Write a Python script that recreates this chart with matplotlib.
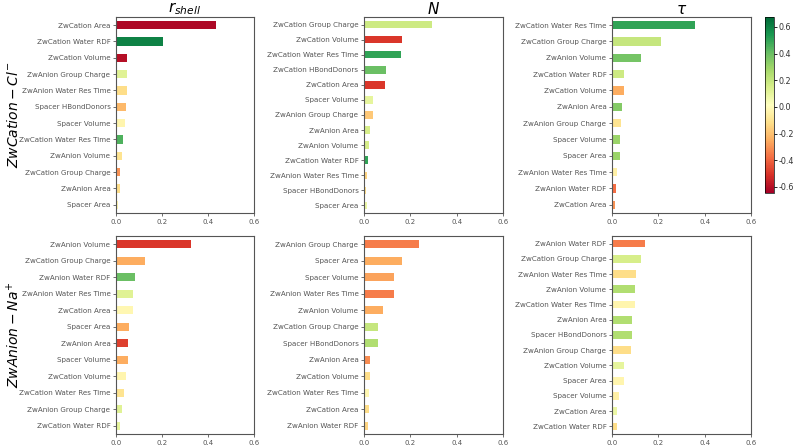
import matplotlib
matplotlib.use("Agg")
import matplotlib.pyplot as plt
import numpy as np
from matplotlib import cm
from matplotlib.colors import Normalize

# ---- data (top to bottom as shown) ----
r_cl_labels = ["ZwCation Area", "ZwCation Water RDF", "ZwCation Volume", "ZwAnion Group Charge",
               "ZwAnion Water Res Time", "Spacer HBondDonors", "Spacer Volume",
               "ZwCation Water Res Time", "ZwAnion Volume", "ZwCation Group Charge",
               "ZwAnion Area", "Spacer Area"]
r_cl_imp = [0.436, 0.206, 0.049, 0.048, 0.048, 0.045, 0.039, 0.032, 0.026, 0.019, 0.016, 0.010]
r_cl_corr = [-0.62, 0.60, -0.60, 0.12, -0.12, -0.22, -0.03, 0.45, -0.10, -0.30, -0.12, -0.03]

n_cl_labels = ["ZwCation Group Charge", "ZwCation Volume", "ZwCation Water Res Time",
               "ZwCation HBondDonors", "ZwCation Area", "Spacer Volume", "ZwAnion Group Charge",
               "ZwAnion Area", "ZwAnion Volume", "ZwCation Water RDF",
               "ZwAnion Water Res Time", "Spacer HBondDonors", "Spacer Area"]
n_cl_imp = [0.294, 0.163, 0.159, 0.094, 0.089, 0.037, 0.037, 0.026, 0.022, 0.016, 0.012, 0.010, 0.011]
n_cl_corr = [0.18, -0.50, 0.50, 0.40, -0.50, 0.10, -0.18, 0.15, 0.15, 0.50, -0.15, -0.12, 0.08]

t_cl_labels = ["ZwCation Water Res Time", "ZwCation Group Charge", "ZwAnion Volume",
               "ZwCation Water RDF", "ZwCation Volume", "ZwAnion Area", "ZwAnion Group Charge",
               "Spacer Volume", "Spacer Area", "ZwAnion Water Res Time", "ZwAnion Water RDF",
               "ZwCation Area"]
t_cl_imp = [0.360, 0.210, 0.125, 0.050, 0.050, 0.043, 0.039, 0.035, 0.035, 0.023, 0.017, 0.014]
t_cl_corr = [0.50, 0.20, 0.38, 0.18, -0.25, 0.35, -0.10, 0.30, 0.30, -0.05, -0.38, -0.30]

r_na_labels = ["ZwAnion Volume", "ZwCation Group Charge", "ZwAnion Water RDF",
               "ZwAnion Water Res Time", "ZwCation Area", "Spacer Area", "ZwAnion Area",
               "Spacer Volume", "ZwCation Volume", "ZwCation Water Res Time",
               "ZwAnion Group Charge", "ZwCation Water RDF"]
r_na_imp = [0.326, 0.128, 0.081, 0.072, 0.072, 0.058, 0.054, 0.054, 0.045, 0.033, 0.026, 0.017]
r_na_corr = [-0.50, -0.25, 0.40, 0.12, -0.02, -0.25, -0.48, -0.25, -0.03, -0.10, 0.12, 0.10]

n_na_labels = ["ZwAnion Group Charge", "Spacer Area", "Spacer Volume", "ZwAnion Water Res Time",
               "ZwAnion Volume", "ZwCation Group Charge", "Spacer HBondDonors", "ZwAnion Area",
               "ZwCation Volume", "ZwCation Water Res Time", "ZwCation Area", "ZwAnion Water RDF"]
n_na_imp = [0.238, 0.163, 0.128, 0.128, 0.084, 0.062, 0.061, 0.026, 0.026, 0.022, 0.022, 0.016]
n_na_corr = [-0.35, -0.25, -0.27, -0.35, -0.25, 0.20, 0.25, -0.32, -0.12, -0.02, -0.12, -0.15]

t_na_labels = ["ZwAnion Water RDF", "ZwCation Group Charge", "ZwAnion Water Res Time",
               "ZwAnion Volume", "ZwCation Water Res Time", "ZwAnion Area", "Spacer HBondDonors",
               "ZwAnion Group Charge", "ZwCation Volume", "Spacer Area", "Spacer Volume",
               "ZwCation Area", "ZwCation Water RDF"]
t_na_imp = [0.142, 0.125, 0.104, 0.100, 0.099, 0.088, 0.088, 0.083, 0.053, 0.050, 0.029, 0.023, 0.020]
t_na_corr = [-0.35, 0.15, -0.12, 0.25, -0.03, 0.25, 0.25, -0.12, 0.10, -0.03, -0.05, 0.08, -0.12]

col_titles = [r"$r_{shell}$", r"$N$", r"$\tau$"]
row_titles = [r"$ZwCation-Cl^{-}$", r"$ZwAnion-Na^{+}$"]
x_ticks = [0.0, 0.2, 0.4, 0.6]
cbar_ticks = [-0.6, -0.4, -0.2, 0.0, 0.2, 0.4, 0.6]

panels = [
    [(r_cl_labels, r_cl_imp, r_cl_corr), (n_cl_labels, n_cl_imp, n_cl_corr), (t_cl_labels, t_cl_imp, t_cl_corr)],
    [(r_na_labels, r_na_imp, r_na_corr), (n_na_labels, n_na_imp, n_na_corr), (t_na_labels, t_na_imp, t_na_corr)],
]

cmap = plt.get_cmap("RdYlGn")
norm = Normalize(vmin=-0.645, vmax=0.675)

fig = plt.figure(figsize=(8.0, 4.48), dpi=100)

lefts = [116 / 800, 364 / 800, 612 / 800]
widths = [138 / 800, 139 / 800, 139 / 800]
rows = [(1 - 213 / 448, (213 - 17) / 448), (1 - 434 / 448, (434 - 236) / 448)]

for r in range(2):
    for c in range(3):
        labels, imp, corr = panels[r][c]
        ax = fig.add_axes([lefts[c], rows[r][0], widths[c], rows[r][1]])
        n = len(labels)
        y = np.arange(n)[::-1]
        colors = [cmap(norm(v)) for v in corr]
        ax.barh(y, imp, height=0.5, color=colors)
        ax.set_yticks(y)
        ax.set_yticklabels(labels, fontsize=5.15, color="#333333")
        ax.set_ylim(-0.5, n - 0.5)
        ax.set_xlim(0, 0.6)
        ax.set_xticks(x_ticks)
        ax.set_xticklabels([f"{t:.1f}" for t in x_ticks], fontsize=5.0, color="#333333")
        ax.tick_params(length=2.5, width=0.6, colors="#555555", pad=1.5)
        for s in ax.spines.values():
            s.set_color("#555555")
            s.set_linewidth(0.8)
        if r == 0:
            ax.set_title(col_titles[c], fontsize=11, pad=1.5)
        if c == 0:
            fig.text(0.0175, rows[r][0] + rows[r][1] / 2, row_titles[r], rotation=90,
                     fontsize=10, ha="center", va="center")

cax = fig.add_axes([765 / 800, 1 - 193 / 448, 9 / 800, 176 / 448])
sm = cm.ScalarMappable(norm=norm, cmap=cmap)
cb = fig.colorbar(sm, cax=cax, ticks=cbar_ticks)
cb.ax.set_yticklabels([f"{t:.1f}" for t in cbar_ticks], fontsize=5.8, color="#333333")
cb.ax.tick_params(length=2.2, width=0.6, pad=0.8)
cb.outline.set_linewidth(0.5)

fig.savefig("out.png", dpi=100)
